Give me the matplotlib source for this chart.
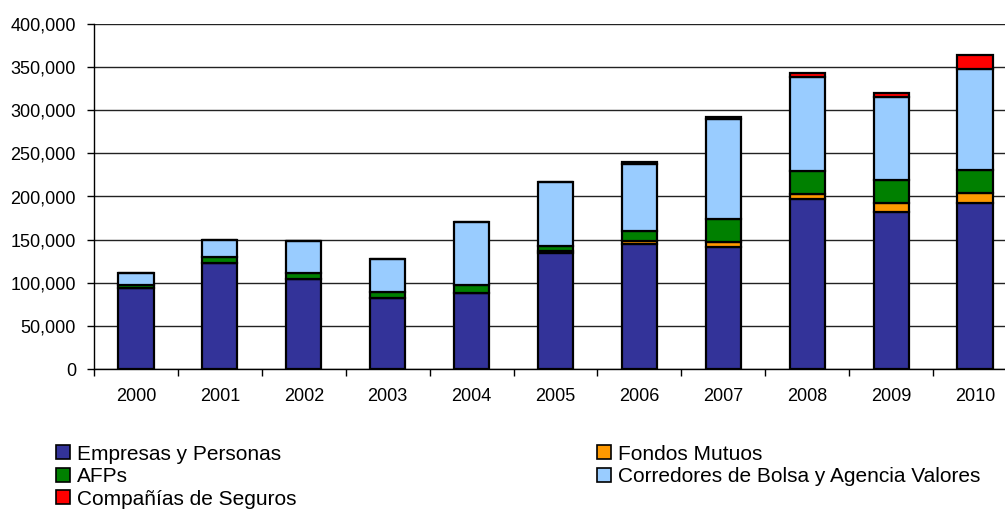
import matplotlib
matplotlib.use("Agg")
from matplotlib import pyplot as plt
from matplotlib.ticker import FuncFormatter, MultipleLocator
from matplotlib.patches import Patch
import numpy as np

## Data ##

years = ['2000', '2001', '2002', '2003', '2004', '2005', '2006', '2007', '2008', '2009', '2010']
empresas = [94000, 123000, 104000, 82000, 88000, 134000, 145000, 141000, 197000, 182000, 193000]
fondos = [0, 0, 0, 0, 0, 3000, 3000, 6000, 6000, 10000, 11000]
afps = [3000, 7000, 7000, 7000, 9000, 6000, 12000, 27000, 27000, 27000, 27000]
corredores = [14000, 20000, 37000, 39000, 74000, 74000, 78000, 116000, 108000, 96000, 117000]
companias = [0, 0, 0, 0, 0, 0, 2000, 2500, 5000, 5000, 16000]

labels = ['Empresas y Personas', 'Fondos Mutuos', 'AFPs',
          'Corredores de Bolsa y Agencia Valores', 'Compañías de Seguros']
colors = ['#333399', '#FF9900', '#008000', '#99CCFF', '#FF0000']

plt.rcParams['font.family'] = ['Liberation Sans', 'DejaVu Sans']

fig = plt.figure(figsize=(10.05, 5.15), dpi=100)
ax = fig.add_axes([94/1005, 146/515, 923/1005, 345/515])

x = np.arange(len(years))
series = [empresas, fondos, afps, corredores, companias]
bottom = np.zeros(len(years))
handles = []
for vals, lab, col in zip(series, labels, colors):
    vals = np.array(vals, dtype=float)
    ax.bar(x, vals, 0.42, bottom=bottom, color=col, edgecolor='black', linewidth=1.6, zorder=3)
    bottom += vals
    handles.append(Patch(facecolor=col, edgecolor='black', linewidth=1.2, label=lab))

ax.set_xlim(-0.5, len(years) - 0.5)
ax.set_ylim(0, 400000)
ax.yaxis.set_major_locator(MultipleLocator(50000))
ax.yaxis.set_major_formatter(FuncFormatter(lambda v, p: f"{int(v):,}"))
ax.grid(axis='y', color='#222222', linewidth=1, zorder=0)

ax.set_xticks(x)
ax.set_xticklabels(years)
ax.set_xticks(np.arange(len(years) + 1) - 0.5, minor=True)
ax.tick_params(axis='x', which='major', length=0, pad=14, labelsize=13)
ax.tick_params(axis='x', which='minor', length=5, width=1, direction='out')
ax.tick_params(axis='y', length=5, width=1, direction='out', pad=8, labelsize=13)

for s in ['top', 'right']:
    ax.spines[s].set_visible(False)
ax.spines['left'].set_linewidth(1)
ax.spines['bottom'].set_linewidth(1)

leg_kw = dict(frameon=False, fontsize=15, handlelength=0.65, handleheight=0.65,
              handletextpad=0.35, labelspacing=0.17, borderpad=0, borderaxespad=0,
              loc='upper left')
fig.legend([handles[0], handles[2], handles[4]], [labels[0], labels[2], labels[4]],
           bbox_to_anchor=(56/1005, 1 - 444.5/515), **leg_kw)
fig.legend([handles[1], handles[3]], [labels[1], labels[3]],
           bbox_to_anchor=(597/1005, 1 - 444.5/515), **leg_kw)

plt.savefig("out.png", dpi=100)
plt.close()
